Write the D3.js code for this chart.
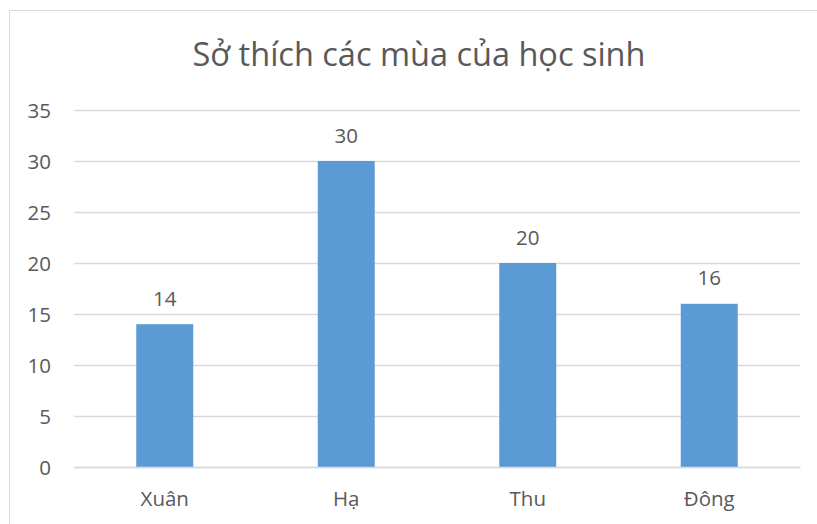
<!DOCTYPE html>
<html lang="vi">
<head>
  <meta charset="UTF-8">
  <title>Sở thích các mùa của học sinh</title>
  <script src="https://d3js.org/d3.v7.min.js"></script>
  <style>
    body { margin: 0; background: #fff; font-family: "Open Sans", sans-serif; }
    svg text { fill: #595959; font-family: "Open Sans", sans-serif; }
  </style>
</head>
<body>
  <svg id="chart" width="817" height="524"></svg>

  <script>
    const categories = ["Xuân", "Hạ", "Thu", "Đông"];
    const values = [14, 30, 20, 16];
    const yTicks = [0, 5, 10, 15, 20, 25, 30, 35];
    const title = "Sở thích các mùa của học sinh";

    const data = categories.map((c, i) => ({ cat: c, val: values[i] }));

    const svg = d3.select("#chart");
    const margin = { top: 110, right: 17, bottom: 57, left: 74 };
    const width = +svg.attr("width") - margin.left - margin.right;
    const height = +svg.attr("height") - margin.top - margin.bottom;

    // chart frame
    svg.append("rect")
      .attr("x", 9.5).attr("y", 10.5)
      .attr("width", 830).attr("height", 530)
      .attr("fill", "none")
      .attr("stroke", "#d9d9d9");

    svg.append("text")
      .attr("x", 419).attr("y", 66)
      .attr("text-anchor", "middle")
      .style("font-size", "32.5px")
      .text(title);

    const g = svg.append("g").attr("transform", `translate(${margin.left},${margin.top})`);

    const x = d3.scaleBand()
      .domain(categories)
      .range([0, width])
      .paddingInner(0.686)
      .paddingOuter(0.343);

    const y = d3.scaleLinear()
      .domain([0, 35])
      .range([height, 0]);

    // gridlines
    g.append("g")
      .call(d3.axisLeft(y).tickValues(yTicks).tickSize(-width).tickFormat(""))
      .call(a => a.select(".domain").remove())
      .selectAll("line")
      .attr("stroke", "#d9d9d9")
      .attr("stroke-width", 1.3);

    // y labels
    g.append("g")
      .call(d3.axisLeft(y).tickValues(yTicks).tickSize(0).tickPadding(23))
      .call(a => a.select(".domain").remove())
      .call(a => a.attr("font-family", null).attr("font-size", null))
      .selectAll("text")
      .attr("dy", "0.36em")
      .style("font-size", "20.5px")
      .style("fill", "#595959");

    g.selectAll(".bar")
      .data(data)
      .enter().append("rect")
      .attr("class", "bar")
      .attr("x", d => x(d.cat))
      .attr("width", x.bandwidth())
      .attr("y", d => y(d.val))
      .attr("height", d => height - y(d.val))
      .attr("fill", "#5b9bd5");

    g.selectAll(".val")
      .data(data)
      .enter().append("text")
      .attr("class", "val")
      .attr("x", d => x(d.cat) + x.bandwidth() / 2)
      .attr("y", d => y(d.val) - 18.5)
      .attr("text-anchor", "middle")
      .style("font-size", "20.5px")
      .text(d => d.val);

    // x labels
    g.append("g")
      .attr("transform", `translate(0,${height})`)
      .call(d3.axisBottom(x).tickSize(0).tickPadding(24.5))
      .call(a => a.select(".domain").attr("stroke", "#d9d9d9").attr("stroke-width", 1.3))
      .call(a => a.attr("font-family", null).attr("font-size", null))
      .selectAll("text")
      .style("font-size", "20.5px")
      .style("fill", "#595959");
  </script>
</body>
</html>
